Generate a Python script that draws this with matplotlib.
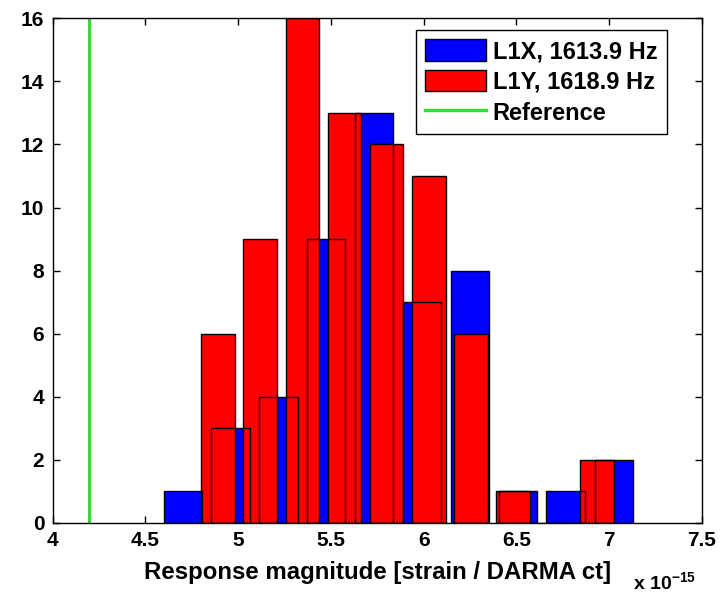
import matplotlib
matplotlib.use("Agg")
import matplotlib.pyplot as plt
from matplotlib.patches import Patch
from matplotlib.lines import Line2D

plt.rcParams['font.family'] = ['Liberation Sans', 'DejaVu Sans']
plt.rcParams['mathtext.fontset'] = 'custom'
plt.rcParams['mathtext.rm'] = 'Liberation Sans'
plt.rcParams['mathtext.bf'] = 'Liberation Sans:bold'

# Data (x in units of 1e-15 strain / DARMA ct)
l1x_centers = [4.701, 4.959, 5.217, 5.475, 5.733, 5.991, 6.249, 6.507, 6.765, 7.024]
l1x_counts = [1, 3, 4, 9, 13, 7, 8, 1, 1, 2]
l1x_width = 0.2065

l1y_centers = [4.893, 5.119, 5.346, 5.573, 5.800, 6.027, 6.254, 6.480, 6.707, 6.934]
l1y_counts = [6, 9, 16, 13, 12, 11, 6, 1, 0, 2]
l1y_width = 0.1814

reference_x = 4.195

x_ticks = [4, 4.5, 5, 5.5, 6, 6.5, 7, 7.5]
x_tick_labels = ['4', '4.5', '5', '5.5', '6', '6.5', '7', '7.5']
y_ticks = [0, 2, 4, 6, 8, 10, 12, 14, 16]

labels = ['L1X, 1613.9 Hz', 'L1Y, 1618.9 Hz', 'Reference']

fig = plt.figure(figsize=(7.24, 5.94), dpi=100)
ax = fig.add_axes([52.6 / 724, 1 - 523 / 594, (702 - 52.6) / 724, (523 - 18.3) / 594])

# blue fill
ax.bar(l1x_centers, l1x_counts, width=l1x_width, color='#0000ff',
       edgecolor='none', zorder=2)
# red on top
ax.bar(l1y_centers, l1y_counts, width=l1y_width, color='#ff0000',
       edgecolor='black', linewidth=1.0, zorder=3)
# blue edges above everything
ax.bar(l1x_centers, l1x_counts, width=l1x_width, facecolor='none',
       edgecolor='black', linewidth=1.0, zorder=4)

ax.axvline(reference_x, color='#33dd33', linewidth=2.2, zorder=5)

ax.set_xlim(4, 7.5)
ax.set_ylim(0, 16)
ax.set_xticks(x_ticks)
ax.set_xticklabels(x_tick_labels)
ax.set_yticks(y_ticks)
ax.tick_params(direction='in', length=5, width=1, top=True, right=True,
               labelsize=15, pad=6)
for lab in ax.get_xticklabels() + ax.get_yticklabels():
    lab.set_fontweight('bold')
for sp in ax.spines.values():
    sp.set_linewidth(1.0)
    sp.set_zorder(6)

ax.set_xlabel('Response magnitude [strain / DARMA ct]', fontsize=17.3,
              fontweight='bold', labelpad=8)

fig.text(633 / 724, 1 - 593 / 594, r'x $\mathbf{10^{-15}}$', fontsize=14,
         fontweight='bold', ha='left', va='bottom')

handles = [Patch(facecolor='#0000ff', edgecolor='black', linewidth=1.0),
           Patch(facecolor='#ff0000', edgecolor='black', linewidth=1.0),
           Line2D([0], [0], color='#33dd33', linewidth=2.5)]
leg = ax.legend(handles, labels, loc='upper right',
                bbox_to_anchor=(666.7 / 724, 1 - 30 / 594),
                bbox_transform=fig.transFigure, borderaxespad=0,
                fancybox=False, framealpha=1, edgecolor='black',
                prop={'size': 17, 'weight': 'bold'},
                handlelength=2.55, handleheight=1.0, handletextpad=0.3,
                labelspacing=0.3, borderpad=0.4)
leg.get_frame().set_linewidth(1.0)
leg.set_zorder(10)

fig.savefig('out.png', dpi=100)
